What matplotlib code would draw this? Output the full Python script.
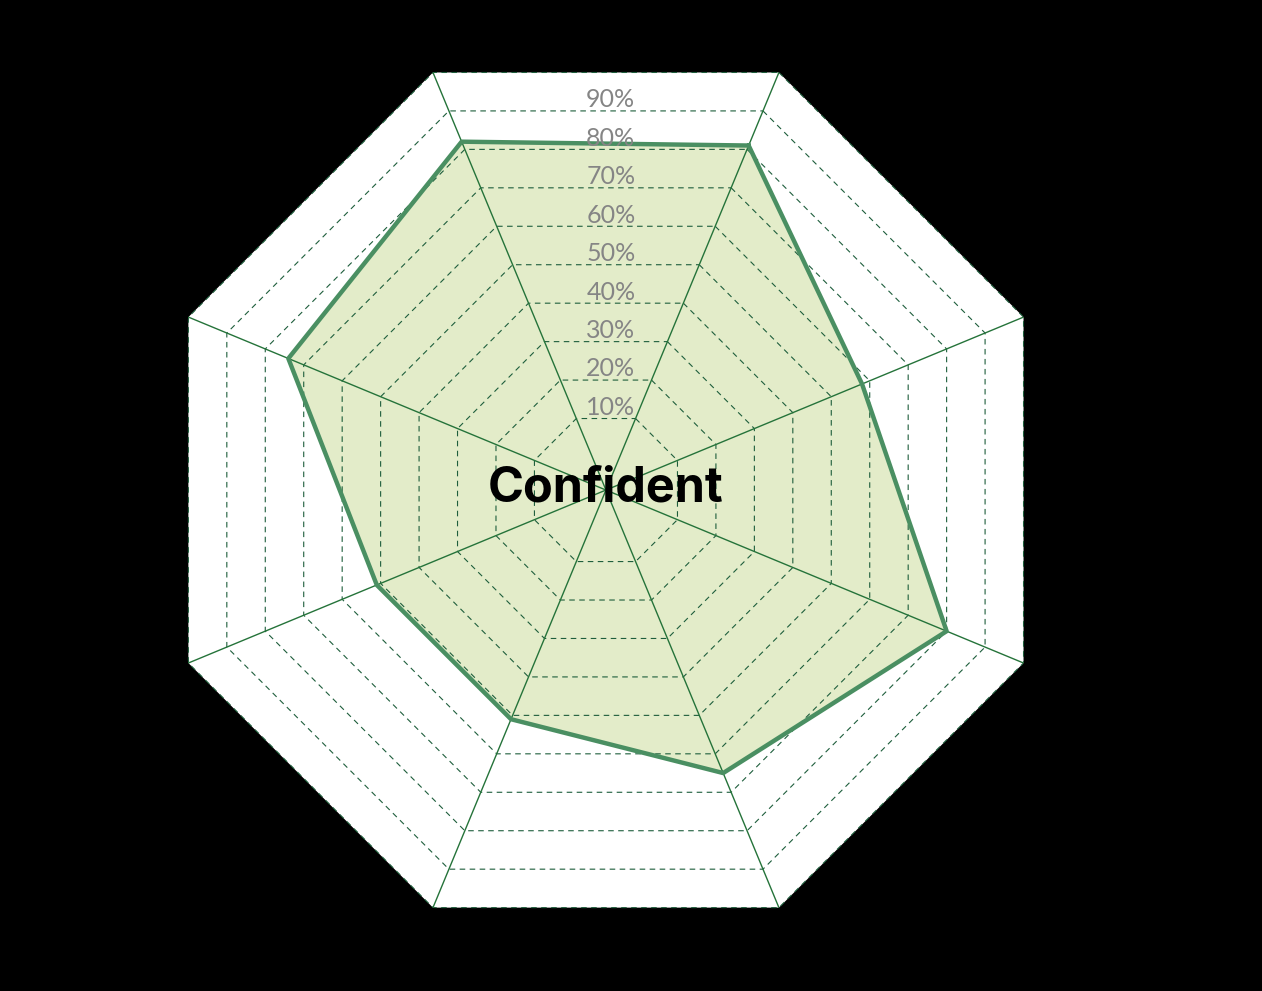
import numpy as np
import matplotlib
matplotlib.use("Agg")
import matplotlib.pyplot as plt

# axes clockwise starting at the top-right spoke
categories = ["A", "B", "C", "D", "E", "F", "G", "H"]
values = [0.81, 0.58, 0.80, 0.65, 0.51, 0.51, 0.74, 0.82]
levels = [0.1, 0.2, 0.3, 0.4, 0.5, 0.6, 0.7, 0.8, 0.9, 1.0]
level_labels = ["10%", "20%", "30%", "40%", "50%", "60%", "70%", "80%", "90%"]
title = "Confident"

rmin = -0.086
n = len(categories)
angles = np.pi / 8 + np.arange(n) * 2 * np.pi / n
closed = np.append(angles, angles[0])

fig = plt.figure(figsize=(12.62, 9.91), dpi=100, facecolor="black")
ax = fig.add_axes([0.122, 0.0494, 0.7163, 0.9122], projection="polar")
ax.set_theta_offset(np.pi / 2)
ax.set_theta_direction(-1)
ax.set_ylim(rmin, 1)
ax.grid(False)
ax.set_xticks([])
ax.set_yticks([])
ax.spines["polar"].set_visible(False)
ax.patch.set_alpha(0)

# white octagon background
ax.fill(closed, [1.0] * (n + 1), color="white", zorder=0, lw=0)

# data
vals = np.append(values, values[0])
ax.fill(closed, vals, color="#e3ecc9", zorder=1, lw=0)

# ring grid
for lv in levels:
    ax.plot(closed, [lv] * (n + 1), color="#1e5e3c", lw=0.8,
            ls=(0, (5, 4)), zorder=2)

# spokes
for a in angles:
    ax.plot([a, a], [rmin, 1.0], color="#25733a", lw=1.0, zorder=3)

ax.plot(closed, vals, color="#4a8f62", lw=3.2, zorder=4)

# level labels along the top, sitting on the flat edge of each ring
for lv, lab in zip(levels, level_labels):
    r_edge = rmin + (lv - rmin) * np.cos(np.pi / n)
    ax.annotate(lab, xy=(0, r_edge), xytext=(3.5, 8.0), textcoords="offset points",
                ha="center", va="center", fontsize=18, color="#858585",
                family="Lato", zorder=5)

ax.text(0.5, 0.502, title, transform=ax.transAxes, ha="center", va="center",
        fontsize=35, fontweight="bold", family="Inter", color="black", zorder=6)

fig.savefig("out.png", dpi=100, facecolor="black")
